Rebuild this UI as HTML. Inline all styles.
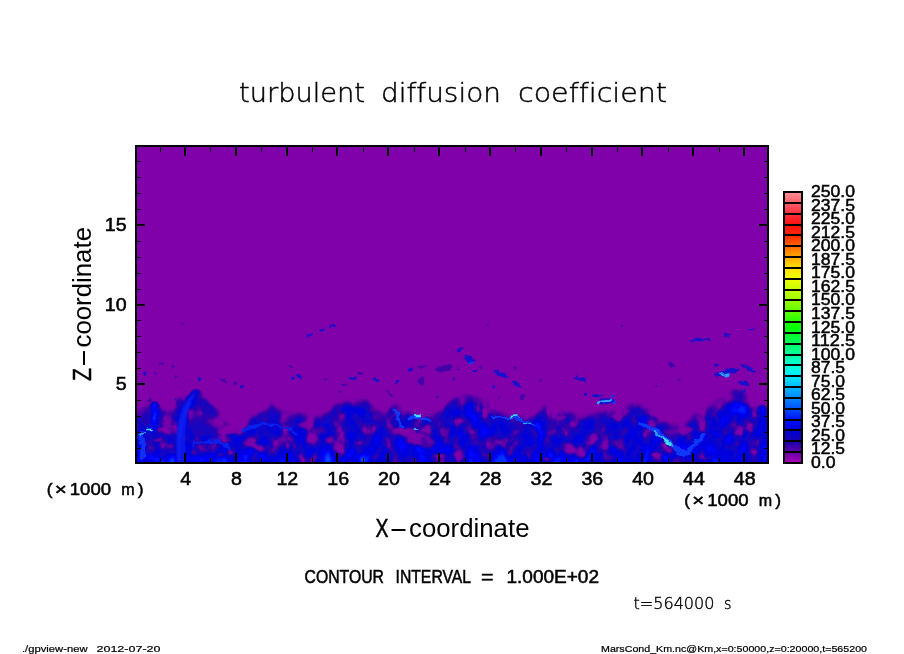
<!DOCTYPE html>
<html lang="en"><head><meta charset="utf-8"><title>turbulent diffusion coefficient</title>
<style>
html,body{margin:0;padding:0;background:#fff;overflow:hidden;width:904px;height:654px}
svg{display:block;position:absolute;left:0;top:0}
text{font-family:"Liberation Sans","DejaVu Sans",sans-serif;fill:#000;font-variant-ligatures:none}
.thin{font-family:"DejaVu Sans Light","DejaVu Sans","Liberation Sans",sans-serif;font-weight:200}
.num{font-size:17.5px;stroke:#000;stroke-width:.5px}
.tk{stroke:#000;stroke-width:2;shape-rendering:crispEdges}
.mk{stroke:#000;stroke-width:1;shape-rendering:crispEdges}
</style></head><body>
<svg width="904" height="654" viewBox="0 0 904 654">
<rect width="904" height="654" fill="#fff"/>
<defs><clipPath id="pc"><rect x="136" y="146" width="632" height="317"/></clipPath></defs>
<g clip-path="url(#pc)">
<rect x="136" y="146" width="632" height="317" fill="#8000AA"/>
<defs>
<filter id="fld" filterUnits="userSpaceOnUse" x="136" y="146" width="632" height="317" color-interpolation-filters="sRGB">
<feGaussianBlur in="SourceGraphic" stdDeviation="1.6 1.3" result="m"/>
<feTurbulence type="fractalNoise" baseFrequency="0.075 0.055" numOctaves="3" seed="11" result="n"/>
<feColorMatrix in="n" type="matrix" values="1.35 0 0 0 -0.175  1.35 0 0 0 -0.175  1.35 0 0 0 -0.175  0 0 0 0 1" result="ng"/>
<feComponentTransfer in="ng" result="nc"><feFuncR type="table" tableValues="0 0.25 0.5 0.68 0.78"/><feFuncG type="table" tableValues="0 0.25 0.5 0.68 0.78"/><feFuncB type="table" tableValues="0 0.25 0.5 0.68 0.78"/></feComponentTransfer>
<feComposite in="m" in2="nc" operator="arithmetic" k1="1" k2="0" k3="0" k4="0" result="v"/>
<feComponentTransfer in="v"><feFuncR type="table" tableValues="0.502 0.502 0.439 0.314 0.188 0.110 0.063 0.031 0.000 0.000 0.000 0.000 0.000 0.000 0.000 0.000 0.000 0.000 0.000 0.000 0.000"/><feFuncG type="table" tableValues="0.000 0.000 0.000 0.000 0.000 0.016 0.024 0.016 0.000 0.000 0.000 0.063 0.188 0.314 0.471 0.627 0.784 0.910 1.000 1.000 1.000"/><feFuncB type="table" tableValues="0.667 0.667 0.667 0.659 0.690 0.737 0.784 0.816 0.863 0.910 0.973 1.000 1.000 1.000 1.000 1.000 1.000 1.000 0.910 0.753 0.627"/><feFuncA type="linear" slope="0" intercept="1"/></feComponentTransfer>
</filter>
<filter id="b1" x="-20%" y="-20%" width="140%" height="140%"><feGaussianBlur stdDeviation="1"/></filter>
<filter id="b2" x="-20%" y="-20%" width="140%" height="140%"><feGaussianBlur stdDeviation="1.8"/></filter>
<filter id="b05" x="-20%" y="-20%" width="140%" height="140%"><feGaussianBlur stdDeviation="0.6"/></filter>
<filter id="dsp" filterUnits="userSpaceOnUse" x="130" y="300" width="650" height="175" color-interpolation-filters="sRGB"><feTurbulence type="fractalNoise" baseFrequency="0.09 0.12" numOctaves="2" seed="5" result="t"/><feDisplacementMap in="SourceGraphic" in2="t" scale="9" xChannelSelector="R" yChannelSelector="G"/><feGaussianBlur stdDeviation="0.7"/></filter>
<linearGradient id="bg" gradientUnits="userSpaceOnUse" x1="0" y1="405" x2="0" y2="462"><stop offset="0" stop-color="#6B6B6B"/><stop offset="0.55" stop-color="#9E9E9E"/><stop offset="0.8" stop-color="#C0C0C0"/><stop offset="1" stop-color="#D4D4D4"/></linearGradient>
<filter id="dsp2" filterUnits="userSpaceOnUse" x="130" y="300" width="650" height="175" color-interpolation-filters="sRGB"><feTurbulence type="fractalNoise" baseFrequency="0.2 0.25" numOctaves="2" seed="9" result="t"/><feDisplacementMap in="SourceGraphic" in2="t" scale="5" xChannelSelector="R" yChannelSelector="G"/><feGaussianBlur stdDeviation="0.75"/></filter>
</defs>
<g filter="url(#fld)">
<rect x="130" y="140" width="650" height="335" fill="#000"/>
<path d="M136 470L136 409L150 402L165 407L174 409L176 397L185 393L198 388L205 395L215 407L225 419L235 427L245 425L252 412L262 403L272 402L282 409L295 411L310 413L328 411L335 402L350 398L368 398L376 407L385 413L392 403L397 402L404 409L415 411L430 412L442 408L450 397L455 394L465 393L478 395L488 400L495 409L510 413L530 413L540 407L547 400L555 405L565 410L585 412L600 410L612 403L618 411L625 405L632 402L645 403L652 409L660 417L672 423L685 421L692 413L702 407L712 401L722 396L735 394L745 395L752 402L760 407L768 405L768 470Z" fill="#333333"/>
<path d="M136 470L136 413L150 406L165 411L174 413L176 401L185 397L198 392L205 399L215 411L225 423L235 431L245 429L252 416L262 407L272 406L282 413L295 415L310 417L328 415L335 406L350 402L368 402L376 411L385 417L392 407L397 406L404 413L415 415L430 416L442 412L450 401L455 398L465 397L478 399L488 404L495 413L510 417L530 417L540 411L547 404L555 409L565 414L585 416L600 414L612 407L618 415L625 409L632 406L645 407L652 413L660 421L672 427L685 425L692 417L702 411L712 405L722 400L735 398L745 399L752 406L760 411L768 409L768 470Z" fill="#5C5C5C"/>
<path d="M136 470L136 417L150 410L165 415L174 417L176 405L185 401L198 396L205 403L215 415L225 427L235 435L245 433L252 420L262 411L272 410L282 417L295 419L310 421L328 419L335 410L350 406L368 406L376 415L385 421L392 411L397 410L404 417L415 419L430 420L442 416L450 405L455 402L465 401L478 403L488 408L495 417L510 421L530 421L540 415L547 408L555 413L565 418L585 420L600 418L612 411L618 419L625 413L632 410L645 411L652 417L660 425L672 431L685 429L692 421L702 415L712 409L722 404L735 402L745 403L752 410L760 415L768 413L768 470Z" fill="url(#bg)"/>
<g filter="url(#dsp)">
<ellipse cx="166.5" cy="416.5" rx="5.5" ry="3.0" fill="#424242"/>
<ellipse cx="163.7" cy="430" rx="5.5" ry="3.0" fill="#1F1F1F"/>
<ellipse cx="158" cy="439.4" rx="5.5" ry="3.0" fill="#1F1F1F"/>
<ellipse cx="169.4" cy="447" rx="4.4" ry="3.0" fill="#424242"/>
<ellipse cx="154" cy="424" rx="3.3" ry="3.0" fill="#1F1F1F"/>
<ellipse cx="226.8" cy="431" rx="8.8" ry="5.0" fill="#1F1F1F"/>
<ellipse cx="224.9" cy="440" rx="6.6" ry="4.0" fill="#424242"/>
<ellipse cx="249.7" cy="443" rx="6.6" ry="5.0" fill="#1F1F1F"/>
<ellipse cx="259.3" cy="447" rx="5.5" ry="4.0" fill="#1F1F1F"/>
<ellipse cx="196" cy="452" rx="4.4" ry="2.0" fill="#424242"/>
<ellipse cx="219" cy="454.7" rx="4.4" ry="2.0" fill="#1F1F1F"/>
<ellipse cx="306.5" cy="424" rx="8.8" ry="4.0" fill="#1F1F1F"/>
<ellipse cx="320" cy="430" rx="6.6" ry="4.0" fill="#424242"/>
<ellipse cx="312" cy="439.4" rx="6.6" ry="4.0" fill="#1F1F1F"/>
<ellipse cx="329.4" cy="439.4" rx="5.5" ry="4.0" fill="#1F1F1F"/>
<ellipse cx="377" cy="417" rx="5.5" ry="3.0" fill="#424242"/>
<ellipse cx="406" cy="431.8" rx="8.8" ry="5.0" fill="#1F1F1F"/>
<ellipse cx="417.4" cy="439.4" rx="11.0" ry="6.0" fill="#1F1F1F"/>
<ellipse cx="428.8" cy="443" rx="8.8" ry="6.0" fill="#424242"/>
<ellipse cx="427" cy="430" rx="6.6" ry="4.0" fill="#1F1F1F"/>
<ellipse cx="440" cy="454.7" rx="6.6" ry="3.0" fill="#1F1F1F"/>
<ellipse cx="448" cy="431.8" rx="4.4" ry="4.0" fill="#424242"/>
<ellipse cx="458.8" cy="454.7" rx="5.5" ry="4.0" fill="#1F1F1F"/>
<ellipse cx="569.7" cy="449" rx="6.6" ry="6.0" fill="#1F1F1F"/>
<ellipse cx="579.3" cy="454.7" rx="5.5" ry="3.0" fill="#424242"/>
<ellipse cx="594.6" cy="437.5" rx="4.4" ry="5.0" fill="#1F1F1F"/>
<ellipse cx="548.7" cy="458.5" rx="5.5" ry="2.0" fill="#1F1F1F"/>
<ellipse cx="516" cy="431.8" rx="4.4" ry="3.0" fill="#424242"/>
<ellipse cx="562" cy="418" rx="4.4" ry="3.0" fill="#1F1F1F"/>
<ellipse cx="617.7" cy="417" rx="5.5" ry="4.0" fill="#1F1F1F"/>
<ellipse cx="621.6" cy="443" rx="8.8" ry="6.0" fill="#424242"/>
<ellipse cx="631" cy="451" rx="8.8" ry="4.0" fill="#1F1F1F"/>
<ellipse cx="652" cy="424" rx="5.5" ry="5.0" fill="#1F1F1F"/>
<ellipse cx="669.4" cy="431.8" rx="8.8" ry="4.0" fill="#424242"/>
<ellipse cx="684.7" cy="430" rx="6.6" ry="4.0" fill="#1F1F1F"/>
<ellipse cx="702" cy="427" rx="4.4" ry="4.0" fill="#1F1F1F"/>
<ellipse cx="703.8" cy="457" rx="8.8" ry="2.0" fill="#424242"/>
<ellipse cx="656" cy="454.7" rx="5.5" ry="3.0" fill="#1F1F1F"/>
<ellipse cx="758" cy="442" rx="5.5" ry="3.0" fill="#1F1F1F"/>
</g>
<path d="M180.5 464C178.5 440 180 415 196 394" fill="none" stroke="#D9D9D9" stroke-width="9" stroke-linecap="round"/>
<path d="M361 464C361 445 364 428 370 414" fill="none" stroke="#F2F2F2" stroke-width="4" stroke-linecap="round"/>
<path d="M484 464C482 440 478 420 470 406" fill="none" stroke="#E6E6E6" stroke-width="6" stroke-linecap="round"/>
<path d="M704 437L727 409" fill="none" stroke="#F2F2F2" stroke-width="4" stroke-linecap="round"/>
<path d="M744 464C744 445 743 430 741 416" fill="none" stroke="#EBEBEB" stroke-width="5" stroke-linecap="round"/>
<path d="M762 464V408" fill="none" stroke="#E6E6E6" stroke-width="6" stroke-linecap="round"/>
<path d="M541 464C541 450 540 435 538 425" fill="none" stroke="#E6E6E6" stroke-width="6" stroke-linecap="round"/>
<path d="M155 405V427" fill="none" stroke="#E6E6E6" stroke-width="7" stroke-linecap="round"/>
<ellipse cx="205" cy="420" rx="18" ry="16" fill="#616161"/>
<ellipse cx="352" cy="422" rx="20" ry="16" fill="#9E9E9E"/>
<ellipse cx="738" cy="395" rx="10" ry="7" fill="#595959"/>
<ellipse cx="472" cy="428" rx="22" ry="26" fill="#B8B8B8"/>
<ellipse cx="736" cy="432" rx="24" ry="30" fill="#BDBDBD"/>
<ellipse cx="636" cy="436" rx="12" ry="28" fill="#B8B8B8"/>
<ellipse cx="760" cy="436" rx="8" ry="26" fill="#B8B8B8"/>
</g>
<g filter="url(#dsp2)">
<ellipse cx="161.8" cy="363.9" rx="3" ry="1.2" fill="#4400A8" transform="rotate(10 161.8 363.9)"/>
<ellipse cx="172.3" cy="366.2" rx="2.5" ry="1.2" fill="#4400A8" transform="rotate(10 172.3 366.2)"/>
<ellipse cx="145.5" cy="374" rx="1.8" ry="1.8" fill="#1410CC" transform="rotate(0 145.5 374)"/>
<ellipse cx="155.6" cy="374" rx="1.5" ry="1" fill="#4400A8" transform="rotate(0 155.6 374)"/>
<ellipse cx="199" cy="379.2" rx="1.8" ry="2.2" fill="#1410CC" transform="rotate(0 199 379.2)"/>
<ellipse cx="175.7" cy="377.3" rx="1.5" ry="1" fill="#4400A8" transform="rotate(0 175.7 377.3)"/>
<ellipse cx="223" cy="380" rx="4.5" ry="1.2" fill="#4400A8" transform="rotate(25 223 380)"/>
<ellipse cx="235.4" cy="383.6" rx="2" ry="1" fill="#4400A8" transform="rotate(0 235.4 383.6)"/>
<ellipse cx="242" cy="386.5" rx="1.8" ry="1.2" fill="#1410CC" transform="rotate(0 242 386.5)"/>
<ellipse cx="290.8" cy="366.4" rx="1.8" ry="1" fill="#4400A8" transform="rotate(0 290.8 366.4)"/>
<ellipse cx="292.7" cy="378.2" rx="1.8" ry="1.8" fill="#1410CC" transform="rotate(0 292.7 378.2)"/>
<ellipse cx="176" cy="399" rx="1.8" ry="1.2" fill="#1410CC" transform="rotate(0 176 399)"/>
<ellipse cx="150" cy="400" rx="2" ry="1.5" fill="#4400A8" transform="rotate(0 150 400)"/>
<ellipse cx="141.7" cy="381" rx="1.5" ry="1" fill="#4400A8" transform="rotate(0 141.7 381)"/>
<ellipse cx="298.8" cy="376.3" rx="3.2" ry="1.6" fill="#1410CC" transform="rotate(35 298.8 376.3)"/>
<ellipse cx="325.6" cy="379.2" rx="1.8" ry="1.4" fill="#4400A8" transform="rotate(0 325.6 379.2)"/>
<ellipse cx="352.4" cy="378.2" rx="4" ry="1.6" fill="#1410CC" transform="rotate(10 352.4 378.2)"/>
<ellipse cx="360" cy="373.5" rx="2" ry="1.2" fill="#4400A8" transform="rotate(0 360 373.5)"/>
<ellipse cx="343.8" cy="385" rx="3" ry="1.1" fill="#4400A8" transform="rotate(-10 343.8 385)"/>
<ellipse cx="340" cy="391.2" rx="2.6" ry="1.1" fill="#4400A8" transform="rotate(-10 340 391.2)"/>
<ellipse cx="376.3" cy="380.2" rx="3.8" ry="1.5" fill="#1410CC" transform="rotate(30 376.3 380.2)"/>
<ellipse cx="397.3" cy="381.7" rx="1.8" ry="1.6" fill="#1410CC" transform="rotate(0 397.3 381.7)"/>
<ellipse cx="389.5" cy="393.5" rx="4.5" ry="1.3" fill="#4400A8" transform="rotate(50 389.5 393.5)"/>
<ellipse cx="410.7" cy="370.2" rx="3" ry="1.5" fill="#1410CC" transform="rotate(-20 410.7 370.2)"/>
<ellipse cx="421.2" cy="366.8" rx="5" ry="1" fill="#4400A8" transform="rotate(-5 421.2 366.8)"/>
<ellipse cx="444" cy="368.5" rx="9" ry="3.2" fill="#4400A8" transform="rotate(-15 444 368.5)"/>
<ellipse cx="421.5" cy="381.1" rx="3" ry="4" fill="#4400A8" transform="rotate(0 421.5 381.1)"/>
<ellipse cx="437.4" cy="397" rx="1.6" ry="1.2" fill="#4400A8" transform="rotate(0 437.4 397)"/>
<ellipse cx="453.7" cy="379.2" rx="1.6" ry="1.4" fill="#4400A8" transform="rotate(0 453.7 379.2)"/>
<ellipse cx="460.7" cy="349.6" rx="4" ry="1.8" fill="#1410CC" transform="rotate(-20 460.7 349.6)"/>
<ellipse cx="469.3" cy="359.1" rx="6" ry="3.2" fill="#1410CC" transform="rotate(30 469.3 359.1)"/>
<ellipse cx="475" cy="370.6" rx="3" ry="1.5" fill="#1410CC" transform="rotate(-15 475 370.6)"/>
<ellipse cx="457" cy="368.7" rx="1.8" ry="1.2" fill="#4400A8" transform="rotate(0 457 368.7)"/>
<ellipse cx="480.8" cy="366.8" rx="1.8" ry="1" fill="#4400A8" transform="rotate(0 480.8 366.8)"/>
<ellipse cx="500.9" cy="374.4" rx="8" ry="2.2" fill="#1410CC" transform="rotate(20 500.9 374.4)"/>
<ellipse cx="515.2" cy="367.7" rx="1.8" ry="1.5" fill="#4400A8" transform="rotate(0 515.2 367.7)"/>
<ellipse cx="516.2" cy="384" rx="5.5" ry="2" fill="#1410CC" transform="rotate(32 516.2 384)"/>
<ellipse cx="494.2" cy="386.5" rx="2.2" ry="1.1" fill="#1410CC" transform="rotate(0 494.2 386.5)"/>
<ellipse cx="540" cy="381.1" rx="2" ry="1.2" fill="#4400A8" transform="rotate(-20 540 381.1)"/>
<ellipse cx="522.9" cy="396.4" rx="2.5" ry="2.5" fill="#4400A8" transform="rotate(0 522.9 396.4)"/>
<ellipse cx="500" cy="397.4" rx="1.8" ry="1.2" fill="#4400A8" transform="rotate(0 500 397.4)"/>
<ellipse cx="580.2" cy="379.2" rx="6" ry="2.2" fill="#1410CC" transform="rotate(15 580.2 379.2)"/>
<ellipse cx="585" cy="394.5" rx="2" ry="1.5" fill="#1410CC" transform="rotate(0 585 394.5)"/>
<ellipse cx="597.4" cy="395.4" rx="5" ry="1.5" fill="#1410CC" transform="rotate(0 597.4 395.4)"/>
<ellipse cx="606" cy="401.2" rx="7.5" ry="3" fill="#1410CC" transform="rotate(-5 606 401.2)"/>
<ellipse cx="612.5" cy="396.4" rx="1.5" ry="1.2" fill="#1038F8" transform="rotate(0 612.5 396.4)"/>
<ellipse cx="613.5" cy="402.1" rx="1.8" ry="1.6" fill="#1038F8" transform="rotate(0 613.5 402.1)"/>
<ellipse cx="671.3" cy="364.9" rx="4" ry="1.3" fill="#4400A8" transform="rotate(30 671.3 364.9)"/>
<ellipse cx="678.9" cy="379.2" rx="1.6" ry="1.6" fill="#4400A8" transform="rotate(0 678.9 379.2)"/>
<ellipse cx="663.6" cy="382" rx="1.3" ry="1" fill="#4400A8" transform="rotate(0 663.6 382)"/>
<ellipse cx="656" cy="385.9" rx="1.3" ry="1" fill="#4400A8" transform="rotate(0 656 385.9)"/>
<ellipse cx="726.7" cy="372.5" rx="12" ry="3.2" fill="#1410CC" transform="rotate(-15 726.7 372.5)"/>
<ellipse cx="716.2" cy="364.9" rx="2" ry="1.5" fill="#1410CC" transform="rotate(0 716.2 364.9)"/>
<ellipse cx="747.8" cy="367.7" rx="9" ry="1.6" fill="#1410CC" transform="rotate(30 747.8 367.7)"/>
<ellipse cx="744" cy="383" rx="5" ry="2.4" fill="#1410CC" transform="rotate(10 744 383)"/>
<ellipse cx="744" cy="391.6" rx="2" ry="1.4" fill="#1410CC" transform="rotate(0 744 391.6)"/>
<ellipse cx="700" cy="340" rx="11" ry="1.3" fill="#1410CC" transform="rotate(-3 700 340)"/>
<ellipse cx="310" cy="335" rx="4" ry="1" fill="#1410CC" transform="rotate(-25 310 335)"/>
<ellipse cx="322" cy="330" rx="3" ry="1" fill="#1410CC" transform="rotate(-20 322 330)"/>
<ellipse cx="333" cy="326.5" rx="4" ry="1" fill="#1410CC" transform="rotate(-10 333 326.5)"/>
<ellipse cx="727" cy="335" rx="3" ry="1" fill="#1410CC" transform="rotate(-15 727 335)"/>
<ellipse cx="752" cy="329" rx="3" ry="1" fill="#1410CC" transform="rotate(-20 752 329)"/>
<ellipse cx="622" cy="325" rx="1.5" ry="0.8" fill="#4400A8" transform="rotate(0 622 325)"/>
<ellipse cx="487" cy="325" rx="1.5" ry="0.8" fill="#4400A8" transform="rotate(0 487 325)"/>
<ellipse cx="462" cy="348.5" rx="2" ry="1" fill="#4400A8" transform="rotate(0 462 348.5)"/>
<ellipse cx="182.5" cy="324" rx="1.5" ry="0.8" fill="#4400A8" transform="rotate(0 182.5 324)"/>
</g>
<g filter="url(#b1)"><path d="M176.5 464C175.5 440 176 418 184 404C188 398 193 393 197 391C194 397 190 404 188 412C185 424 185 445 186 464Z" fill="#0A12E6"/><path d="M179.5 464C178 440 180 418 190 403" fill="none" stroke="#1430FF" stroke-width="2" stroke-linecap="round" opacity=".7"/></g>
<g filter="url(#dsp)">
<path d="M141 432C142 440 143 450 142 458" fill="none" stroke="#1030F8" stroke-width="6" stroke-linecap="round"/>
<path d="M146 429.5H153" fill="none" stroke="#40E0FF" stroke-width="1.6" stroke-linecap="round"/>
<path d="M141 434L146 433" fill="none" stroke="#30A0FF" stroke-width="2" stroke-linecap="round"/>
<path d="M410 418C416 415 422 419 429 422" fill="none" stroke="#1038F8" stroke-width="3" stroke-linecap="round"/>
<path d="M415 415.5H420" fill="none" stroke="#40E0FF" stroke-width="1.6" stroke-linecap="round"/>
<path d="M413.5 429H417.5" fill="none" stroke="#40E0FF" stroke-width="1.6" stroke-linecap="round"/>
<path d="M394.5 411L402 426" fill="none" stroke="#1038F8" stroke-width="3" stroke-linecap="round"/>
<path d="M493 418.5C505 415 520 418 535 425" fill="none" stroke="#1038F8" stroke-width="2.6" stroke-linecap="round"/>
<path d="M510 417.5L518 417" fill="none" stroke="#40E0FF" stroke-width="1.6" stroke-linecap="round"/>
<path d="M524 423L531 425" fill="none" stroke="#30A0FF" stroke-width="1.5" stroke-linecap="round"/>
<path d="M640.5 424C652 428 662 436 675 447C680 452 684 456 688 452C694 446 699 440 704 435.5" fill="none" stroke="#1038F8" stroke-width="4.2" stroke-linecap="round"/>
<path d="M655 432L672 445" fill="none" stroke="#30A0FF" stroke-width="2.2" stroke-linecap="round"/>
<path d="M665 440L669.5 443.5" fill="none" stroke="#40E0FF" stroke-width="1.6" stroke-linecap="round"/>
<path d="M600 402.5C604 400 608 402 612 400" fill="none" stroke="#30A0FF" stroke-width="2.2" stroke-linecap="round"/>
<path d="M242 432C250 425 262 423 275 425C283 426 290 429 295 432" fill="none" stroke="#0A20EE" stroke-width="2.6" stroke-linecap="round"/>
<path d="M192 446C205 440 218 441 230 447" fill="none" stroke="#0A20EE" stroke-width="2.6" stroke-linecap="round"/>
<path d="M721 374.5L729 373" fill="none" stroke="#30A0FF" stroke-width="1.6" stroke-linecap="round"/>
<path d="M470 361L474 363" fill="none" stroke="#1038F8" stroke-width="1.5" stroke-linecap="round"/>
</g>
</g>
<rect x="136" y="146" width="632" height="317" fill="none" stroke="#000" stroke-width="2" shape-rendering="crispEdges"/>
<path class="tk" d="M185 453V462M185 147V156M236 453V462M236 147V156M287 453V462M287 147V156M337 453V462M337 147V156M388 453V462M388 147V156M439 453V462M439 147V156M490 453V462M490 147V156M541 453V462M541 147V156M592 453V462M592 147V156M642 453V462M642 147V156M693 453V462M693 147V156M744 453V462M744 147V156M137 384H145M759 384H767M137 305H145M759 305H767M137 225H145M759 225H767"/>
<path class="mk" d="M160.5 457.5V462M160.5 147V152M210.5 457.5V462M210.5 147V152M261.5 457.5V462M261.5 147V152M312.5 457.5V462M312.5 147V152M363.5 457.5V462M363.5 147V152M414.5 457.5V462M414.5 147V152M465.5 457.5V462M465.5 147V152M515.5 457.5V462M515.5 147V152M566.5 457.5V462M566.5 147V152M617.5 457.5V462M617.5 147V152M668.5 457.5V462M668.5 147V152M719.5 457.5V462M719.5 147V152M137 448.5H141M764 448.5H767M137 432.5H141M764 432.5H767M137 416.5H141M764 416.5H767M137 400.5H141M764 400.5H767M137 368.5H141M764 368.5H767M137 352.5H141M764 352.5H767M137 336.5H141M764 336.5H767M137 320.5H141M764 320.5H767M137 289.5H141M764 289.5H767M137 273.5H141M764 273.5H767M137 257.5H141M764 257.5H767M137 241.5H141M764 241.5H767M137 209.5H141M764 209.5H767M137 193.5H141M764 193.5H767M137 177.5H141M764 177.5H767M137 161.5H141M764 161.5H767"/>
<defs><linearGradient id="cb" x1="0" y1="1" x2="0" y2="0">
<stop offset="0.000" stop-color="#B000B8"/>
<stop offset="0.040" stop-color="#6000A8"/>
<stop offset="0.080" stop-color="#1800B0"/>
<stop offset="0.120" stop-color="#0000D8"/>
<stop offset="0.160" stop-color="#0010FF"/>
<stop offset="0.200" stop-color="#0050FF"/>
<stop offset="0.240" stop-color="#0088FF"/>
<stop offset="0.280" stop-color="#00B8FF"/>
<stop offset="0.320" stop-color="#00E8FF"/>
<stop offset="0.360" stop-color="#00FFD8"/>
<stop offset="0.400" stop-color="#00FFA0"/>
<stop offset="0.440" stop-color="#00FF60"/>
<stop offset="0.500" stop-color="#00FF00"/>
<stop offset="0.560" stop-color="#60FF00"/>
<stop offset="0.620" stop-color="#B0FF00"/>
<stop offset="0.680" stop-color="#F0FF00"/>
<stop offset="0.720" stop-color="#FFE000"/>
<stop offset="0.760" stop-color="#FFA800"/>
<stop offset="0.800" stop-color="#FF6800"/>
<stop offset="0.840" stop-color="#FF2800"/>
<stop offset="0.880" stop-color="#FF1010"/>
<stop offset="0.920" stop-color="#FF3040"/>
<stop offset="0.960" stop-color="#FF6068"/>
<stop offset="1.000" stop-color="#FF9098"/>
</linearGradient></defs>
<rect x="784" y="192" width="18" height="271" fill="url(#cb)"/>
<path class="tk" d="M784 203H802M784 214H802M784 225H802M784 235H802M784 246H802M784 257H802M784 268H802M784 279H802M784 290H802M784 300H802M784 311H802M784 322H802M784 333H802M784 344H802M784 355H802M784 365H802M784 376H802M784 387H802M784 398H802M784 409H802M784 420H802M784 430H802M784 441H802M784 452H802"/>
<rect x="784" y="192" width="18" height="271" fill="none" stroke="#000" stroke-width="2" shape-rendering="crispEdges"/>
<g class="num" style="font-size:16.8px">
<text x="811" y="197.0" textLength="44" lengthAdjust="spacingAndGlyphs">250.0</text>
<text x="811" y="210.6" textLength="44" lengthAdjust="spacingAndGlyphs">237.5</text>
<text x="811" y="224.1" textLength="44" lengthAdjust="spacingAndGlyphs">225.0</text>
<text x="811" y="237.7" textLength="44" lengthAdjust="spacingAndGlyphs">212.5</text>
<text x="811" y="251.2" textLength="44" lengthAdjust="spacingAndGlyphs">200.0</text>
<text x="811" y="264.8" textLength="44" lengthAdjust="spacingAndGlyphs">187.5</text>
<text x="811" y="278.3" textLength="44" lengthAdjust="spacingAndGlyphs">175.0</text>
<text x="811" y="291.9" textLength="44" lengthAdjust="spacingAndGlyphs">162.5</text>
<text x="811" y="305.4" textLength="44" lengthAdjust="spacingAndGlyphs">150.0</text>
<text x="811" y="318.9" textLength="44" lengthAdjust="spacingAndGlyphs">137.5</text>
<text x="811" y="332.5" textLength="44" lengthAdjust="spacingAndGlyphs">125.0</text>
<text x="811" y="346.1" textLength="44" lengthAdjust="spacingAndGlyphs">112.5</text>
<text x="811" y="359.6" textLength="44" lengthAdjust="spacingAndGlyphs">100.0</text>
<text x="811" y="373.1" textLength="34" lengthAdjust="spacingAndGlyphs">87.5</text>
<text x="811" y="386.7" textLength="34" lengthAdjust="spacingAndGlyphs">75.0</text>
<text x="811" y="400.2" textLength="34" lengthAdjust="spacingAndGlyphs">62.5</text>
<text x="811" y="413.8" textLength="34" lengthAdjust="spacingAndGlyphs">50.0</text>
<text x="811" y="427.4" textLength="34" lengthAdjust="spacingAndGlyphs">37.5</text>
<text x="811" y="440.9" textLength="34" lengthAdjust="spacingAndGlyphs">25.0</text>
<text x="811" y="454.4" textLength="34" lengthAdjust="spacingAndGlyphs">12.5</text>
<text x="811" y="468.0" textLength="24.5" lengthAdjust="spacingAndGlyphs">0.0</text>
</g>
<text class="thin" y="102" style="font-size:26.3px;stroke:#000;stroke-width:.45px"><tspan x="239" textLength="126" lengthAdjust="spacingAndGlyphs">turbulent</tspan> <tspan x="381" textLength="120" lengthAdjust="spacingAndGlyphs">diffusion</tspan> <tspan x="518" textLength="149" lengthAdjust="spacingAndGlyphs">coefficient</tspan></text>
<g class="num" text-anchor="middle">
<text x="185.7" y="485" textLength="10.9" lengthAdjust="spacingAndGlyphs">4</text>
<text x="236.5" y="485" textLength="10.9" lengthAdjust="spacingAndGlyphs">8</text>
<text x="287.3" y="485" textLength="21.8" lengthAdjust="spacingAndGlyphs">12</text>
<text x="338.2" y="485" textLength="21.8" lengthAdjust="spacingAndGlyphs">16</text>
<text x="389.0" y="485" textLength="21.8" lengthAdjust="spacingAndGlyphs">20</text>
<text x="439.8" y="485" textLength="21.8" lengthAdjust="spacingAndGlyphs">24</text>
<text x="490.6" y="485" textLength="21.8" lengthAdjust="spacingAndGlyphs">28</text>
<text x="541.4" y="485" textLength="21.8" lengthAdjust="spacingAndGlyphs">32</text>
<text x="592.3" y="485" textLength="21.8" lengthAdjust="spacingAndGlyphs">36</text>
<text x="643.1" y="485" textLength="21.8" lengthAdjust="spacingAndGlyphs">40</text>
<text x="693.9" y="485" textLength="21.8" lengthAdjust="spacingAndGlyphs">44</text>
<text x="744.7" y="485" textLength="21.8" lengthAdjust="spacingAndGlyphs">48</text>
</g>
<g class="num" text-anchor="end">
<text x="126.6" y="231" textLength="21.8" lengthAdjust="spacingAndGlyphs">15</text>
<text x="126.6" y="311" textLength="21.8" lengthAdjust="spacingAndGlyphs">10</text>
<text x="126.6" y="390" textLength="10.9" lengthAdjust="spacingAndGlyphs">5</text>
</g>
<text class="num" y="495.4" style="font-size:16.5px"><tspan x="46.8" textLength="5.8" lengthAdjust="spacingAndGlyphs">(</tspan><tspan x="54.8" textLength="12" lengthAdjust="spacingAndGlyphs">×</tspan><tspan x="69.8" textLength="41.3" lengthAdjust="spacingAndGlyphs">1000</tspan> <tspan x="121.3" textLength="13.4" lengthAdjust="spacingAndGlyphs">m</tspan><tspan x="137.8" textLength="5.8" lengthAdjust="spacingAndGlyphs">)</tspan></text>
<text class="num" y="506.2" style="font-size:16.5px"><tspan x="684.3" textLength="5.8" lengthAdjust="spacingAndGlyphs">(</tspan><tspan x="692.3" textLength="12" lengthAdjust="spacingAndGlyphs">×</tspan><tspan x="707.3" textLength="41.3" lengthAdjust="spacingAndGlyphs">1000</tspan> <tspan x="758.8" textLength="13.4" lengthAdjust="spacingAndGlyphs">m</tspan><tspan x="775.3" textLength="5.8" lengthAdjust="spacingAndGlyphs">)</tspan></text>
<text y="537" style="font-size:24.9px"><tspan x="375.5" textLength="13" lengthAdjust="spacingAndGlyphs" stroke="#000" stroke-width=".5">X</tspan><tspan x="389" textLength="19" lengthAdjust="spacingAndGlyphs">-</tspan><tspan x="409" textLength="120.5" lengthAdjust="spacingAndGlyphs">coordinate</tspan></text>
<text transform="translate(90.6 381) rotate(-90)" y="0" style="font-size:24.9px"><tspan x="0" textLength="13" lengthAdjust="spacingAndGlyphs" stroke="#000" stroke-width=".5">Z</tspan><tspan x="13.5" textLength="19" lengthAdjust="spacingAndGlyphs">-</tspan><tspan x="33.5" textLength="120.5" lengthAdjust="spacingAndGlyphs">coordinate</tspan></text>
<text class="num" y="583"><tspan x="304.5" textLength="79.5" lengthAdjust="spacingAndGlyphs">CONTOUR</tspan> <tspan x="395.5" textLength="75" lengthAdjust="spacingAndGlyphs">INTERVAL</tspan> <tspan x="481" textLength="12.5" lengthAdjust="spacingAndGlyphs">=</tspan> <tspan x="506.5" textLength="92.5" lengthAdjust="spacingAndGlyphs">1.000E+02</tspan></text>
<text class="thin" y="608.7" style="font-size:16.5px;stroke:#000;stroke-width:.4px"><tspan x="633.5" textLength="81" lengthAdjust="spacingAndGlyphs">t=564000</tspan> <tspan x="724" textLength="7.5" lengthAdjust="spacingAndGlyphs">s</tspan></text>
<text y="652" style="font-size:9px;stroke:#000;stroke-width:.2px"><tspan x="22" textLength="65.5" lengthAdjust="spacingAndGlyphs">./gpview-new</tspan>  <tspan x="96.5" textLength="64" lengthAdjust="spacingAndGlyphs">2012-07-20</tspan></text>
<text x="601" y="652" style="font-size:9px;stroke:#000;stroke-width:.2px" textLength="266" lengthAdjust="spacingAndGlyphs">MarsCond_Km.nc@Km,x=0:50000,z=0:20000,t=565200</text>
</svg></body></html>
